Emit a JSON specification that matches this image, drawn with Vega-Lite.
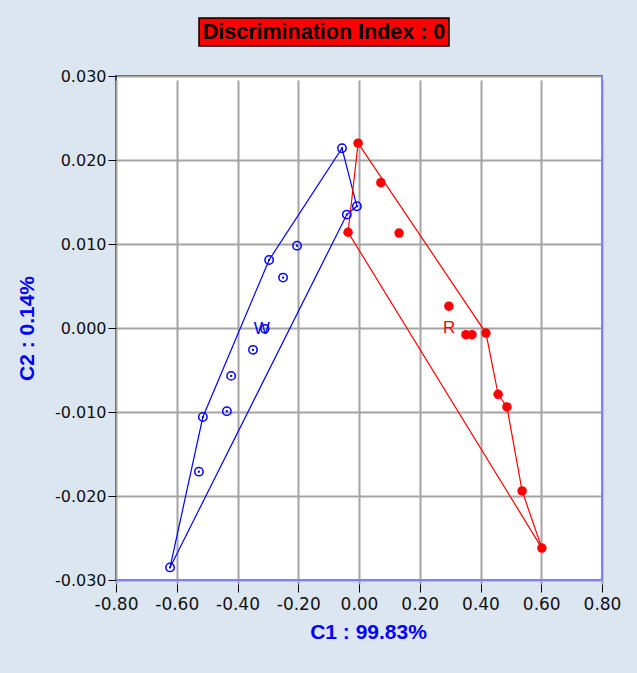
{
  "$schema": "https://vega.github.io/schema/vega-lite/v6.json",
  "width": 486,
  "height": 504,
  "autosize": {"type": "none"},
  "padding": {"left": 116, "top": 76, "right": 35, "bottom": 93},
  "background": "#dce6f0",
  "config": {
    "locale": {"number": {"decimal": ".", "thousands": ",", "grouping": [3], "currency": ["$", ""], "minus": "-"}},
    "view": {"fill": "#ffffff", "stroke": "#000080", "strokeWidth": 1.5},
    "axis": {
      "domain": false,
      "grid": true,
      "gridColor": "#a4a4a4",
      "gridWidth": 2,
      "tickColor": "#000000",
      "tickSize": 8,
      "labelFont": "DejaVu Sans",
      "labelColor": "#111111",
      "labelOverlap": false,
      "labelFlush": false,
      "labelBound": false,
      "titleFont": "Liberation Sans",
      "titleFontWeight": "bold",
      "titleColor": "#0000ff",
      "titleFontSize": 21
    },
    "axisX": {"labelFontSize": 17, "offset": 4, "labelPadding": 4, "titlePadding": 9, "titleX": 252},
    "axisY": {"labelFontSize": 16, "labelPadding": 2}
  },
  "datasets": {
    "points": [
      {"g": "W", "c1": -0.622, "c2": -0.0285},
      {"g": "W", "c1": -0.527, "c2": -0.0171},
      {"g": "W", "c1": -0.514, "c2": -0.0106},
      {"g": "W", "c1": -0.435, "c2": -0.0099},
      {"g": "W", "c1": -0.421, "c2": -0.0057},
      {"g": "W", "c1": -0.349, "c2": -0.0026},
      {"g": "W", "c1": -0.296, "c2": 0.0081},
      {"g": "W", "c1": -0.250, "c2": 0.0060},
      {"g": "W", "c1": -0.204, "c2": 0.0098},
      {"g": "W", "c1": -0.056, "c2": 0.0214},
      {"g": "W", "c1": -0.007, "c2": 0.0145},
      {"g": "W", "c1": -0.040, "c2": 0.0135},
      {"g": "R", "c1": -0.003, "c2": 0.0220},
      {"g": "R", "c1": 0.072, "c2": 0.0173},
      {"g": "R", "c1": 0.132, "c2": 0.0113},
      {"g": "R", "c1": -0.036, "c2": 0.0114},
      {"g": "R", "c1": 0.296, "c2": 0.0026},
      {"g": "R", "c1": 0.352, "c2": -0.0008},
      {"g": "R", "c1": 0.372, "c2": -0.0008},
      {"g": "R", "c1": 0.418, "c2": -0.0006},
      {"g": "R", "c1": 0.458, "c2": -0.0079},
      {"g": "R", "c1": 0.487, "c2": -0.0094},
      {"g": "R", "c1": 0.537, "c2": -0.0194},
      {"g": "R", "c1": 0.602, "c2": -0.0262}
    ],
    "hull": [
      {"g": "W", "o": 1, "c1": -0.622, "c2": -0.0285},
      {"g": "W", "o": 2, "c1": -0.514, "c2": -0.0106},
      {"g": "W", "o": 3, "c1": -0.296, "c2": 0.0081},
      {"g": "W", "o": 4, "c1": -0.056, "c2": 0.0214},
      {"g": "W", "o": 5, "c1": -0.007, "c2": 0.0145},
      {"g": "W", "o": 6, "c1": -0.040, "c2": 0.0135},
      {"g": "W", "o": 7, "c1": -0.622, "c2": -0.0285},
      {"g": "R", "o": 1, "c1": -0.003, "c2": 0.0220},
      {"g": "R", "o": 2, "c1": 0.418, "c2": -0.0006},
      {"g": "R", "o": 3, "c1": 0.458, "c2": -0.0079},
      {"g": "R", "o": 4, "c1": 0.487, "c2": -0.0094},
      {"g": "R", "o": 5, "c1": 0.537, "c2": -0.0194},
      {"g": "R", "o": 6, "c1": 0.602, "c2": -0.0262},
      {"g": "R", "o": 7, "c1": -0.036, "c2": 0.0114},
      {"g": "R", "o": 8, "c1": -0.003, "c2": 0.0220}
    ],
    "centroids": [
      {"g": "W", "c1": -0.310, "c2": -0.0001},
      {"g": "R", "c1": 0.307, "c2": 0.0000}
    ],
    "one": [{}]
  },
  "layer": [
    {
      "data": {"name": "hull"},
      "mark": {"type": "line", "strokeWidth": 1.2},
      "encoding": {
        "x": {"field": "c1", "type": "quantitative", "scale": {"domain": [-0.8, 0.8], "nice": false, "zero": false},
          "axis": {"values": [-0.8, -0.6, -0.4, -0.2, 0, 0.2, 0.4, 0.6, 0.8], "format": ".2f", "title": "C1 : 99.83%"}},
        "y": {"field": "c2", "type": "quantitative", "scale": {"domain": [-0.03, 0.03], "nice": false, "zero": false},
          "axis": {"values": [-0.03, -0.02, -0.01, 0, 0.01, 0.02, 0.03], "format": ".3f", "title": "C2 : 0.14%", "titleX": -83, "titleY": 252, "titleAngle": 270, "titleAlign": "center", "titleBaseline": "alphabetic"}},
        "order": {"field": "o", "type": "quantitative"},
        "detail": {"field": "g"},
        "color": {"field": "g", "type": "nominal", "scale": {"domain": ["W", "R"], "range": ["#0000ff", "#ff0000"]}, "legend": null}
      }
    },
    {
      "data": {"name": "points"},
      "transform": [{"filter": "datum.g === 'W'"}],
      "mark": {"type": "point", "shape": "circle", "filled": false, "size": 70, "strokeWidth": 1.5, "color": "#0000ff", "opacity": 1},
      "encoding": {
        "x": {"field": "c1", "type": "quantitative", "scale": {"domain": [-0.8, 0.8], "nice": false, "zero": false},
          "axis": {"values": [-0.8, -0.6, -0.4, -0.2, 0, 0.2, 0.4, 0.6, 0.8], "format": ".2f", "title": "C1 : 99.83%"}},
        "y": {"field": "c2", "type": "quantitative", "scale": {"domain": [-0.03, 0.03], "nice": false, "zero": false},
          "axis": {"values": [-0.03, -0.02, -0.01, 0, 0.01, 0.02, 0.03], "format": ".3f", "title": "C2 : 0.14%", "titleX": -83, "titleY": 252, "titleAngle": 270, "titleAlign": "center", "titleBaseline": "alphabetic"}}
      }
    },
    {
      "data": {"name": "points"},
      "transform": [{"filter": "datum.g === 'W'"}],
      "mark": {"type": "point", "shape": "square", "filled": true, "size": 4, "color": "#0000ff", "opacity": 1},
      "encoding": {
        "x": {"field": "c1", "type": "quantitative", "scale": {"domain": [-0.8, 0.8], "nice": false, "zero": false},
          "axis": {"values": [-0.8, -0.6, -0.4, -0.2, 0, 0.2, 0.4, 0.6, 0.8], "format": ".2f", "title": "C1 : 99.83%"}},
        "y": {"field": "c2", "type": "quantitative", "scale": {"domain": [-0.03, 0.03], "nice": false, "zero": false},
          "axis": {"values": [-0.03, -0.02, -0.01, 0, 0.01, 0.02, 0.03], "format": ".3f", "title": "C2 : 0.14%", "titleX": -83, "titleY": 252, "titleAngle": 270, "titleAlign": "center", "titleBaseline": "alphabetic"}}
      }
    },
    {
      "data": {"name": "points"},
      "transform": [{"filter": "datum.g === 'R'"}],
      "mark": {"type": "point", "shape": "circle", "filled": true, "size": 90, "color": "#ff0000", "opacity": 1},
      "encoding": {
        "x": {"field": "c1", "type": "quantitative", "scale": {"domain": [-0.8, 0.8], "nice": false, "zero": false},
          "axis": {"values": [-0.8, -0.6, -0.4, -0.2, 0, 0.2, 0.4, 0.6, 0.8], "format": ".2f", "title": "C1 : 99.83%"}},
        "y": {"field": "c2", "type": "quantitative", "scale": {"domain": [-0.03, 0.03], "nice": false, "zero": false},
          "axis": {"values": [-0.03, -0.02, -0.01, 0, 0.01, 0.02, 0.03], "format": ".3f", "title": "C2 : 0.14%", "titleX": -83, "titleY": 252, "titleAngle": 270, "titleAlign": "center", "titleBaseline": "alphabetic"}}
      }
    },
    {
      "data": {"name": "centroids"},
      "transform": [{"filter": "datum.g === 'W'"}],
      "mark": {"type": "point", "shape": "circle", "filled": false, "size": 64, "strokeWidth": 1.5, "color": "#0000ff", "opacity": 1},
      "encoding": {
        "x": {"field": "c1", "type": "quantitative", "scale": {"domain": [-0.8, 0.8], "nice": false, "zero": false},
          "axis": {"values": [-0.8, -0.6, -0.4, -0.2, 0, 0.2, 0.4, 0.6, 0.8], "format": ".2f", "title": "C1 : 99.83%"}},
        "y": {"field": "c2", "type": "quantitative", "scale": {"domain": [-0.03, 0.03], "nice": false, "zero": false},
          "axis": {"values": [-0.03, -0.02, -0.01, 0, 0.01, 0.02, 0.03], "format": ".3f", "title": "C2 : 0.14%", "titleX": -83, "titleY": 252, "titleAngle": 270, "titleAlign": "center", "titleBaseline": "alphabetic"}}
      }
    },
    {
      "data": {"name": "centroids"},
      "mark": {"type": "text", "font": "Liberation Sans", "fontSize": 17, "align": "center", "baseline": "middle", "dx": -3},
      "encoding": {
        "x": {"field": "c1", "type": "quantitative", "scale": {"domain": [-0.8, 0.8], "nice": false, "zero": false},
          "axis": {"values": [-0.8, -0.6, -0.4, -0.2, 0, 0.2, 0.4, 0.6, 0.8], "format": ".2f", "title": "C1 : 99.83%"}},
        "y": {"field": "c2", "type": "quantitative", "scale": {"domain": [-0.03, 0.03], "nice": false, "zero": false},
          "axis": {"values": [-0.03, -0.02, -0.01, 0, 0.01, 0.02, 0.03], "format": ".3f", "title": "C2 : 0.14%", "titleX": -83, "titleY": 252, "titleAngle": 270, "titleAlign": "center", "titleBaseline": "alphabetic"}},
        "text": {"field": "g"},
        "color": {"field": "g", "type": "nominal", "scale": {"domain": ["W", "R"], "range": ["#0000ff", "#ff0000"]}, "legend": null}
      }
    },
    {
      "data": {"name": "one"},
      "mark": {"type": "rule", "color": "#8080ff", "strokeWidth": 2},
      "encoding": {
        "x": {"datum": 0.8, "type": "quantitative", "scale": {"domain": [-0.8, 0.8], "nice": false, "zero": false},
          "axis": {"values": [-0.8, -0.6, -0.4, -0.2, 0, 0.2, 0.4, 0.6, 0.8], "format": ".2f", "title": "C1 : 99.83%"}}
      }
    },
    {
      "data": {"name": "one"},
      "mark": {"type": "rule", "color": "#8080ff", "strokeWidth": 2},
      "encoding": {
        "y": {"datum": -0.03, "type": "quantitative", "scale": {"domain": [-0.03, 0.03], "nice": false, "zero": false},
          "axis": {"values": [-0.03, -0.02, -0.01, 0, 0.01, 0.02, 0.03], "format": ".3f", "title": "C2 : 0.14%", "titleX": -83, "titleY": 252, "titleAngle": 270, "titleAlign": "center", "titleBaseline": "alphabetic"}}
      }
    },
    {
      "data": {"name": "one"},
      "mark": {"type": "rect", "fill": "#ff0000", "stroke": "#000000", "strokeWidth": 1.5, "clip": false},
      "encoding": {
        "x": {"datum": -0.5267, "type": "quantitative", "scale": {"domain": [-0.8, 0.8], "nice": false, "zero": false},
          "axis": {"values": [-0.8, -0.6, -0.4, -0.2, 0, 0.2, 0.4, 0.6, 0.8], "format": ".2f", "title": "C1 : 99.83%"}},
        "x2": {"datum": 0.2963},
        "y": {"datum": 0.0369, "type": "quantitative", "scale": {"domain": [-0.03, 0.03], "nice": false, "zero": false},
          "axis": {"values": [-0.03, -0.02, -0.01, 0, 0.01, 0.02, 0.03], "format": ".3f", "title": "C2 : 0.14%", "titleX": -83, "titleY": 252, "titleAngle": 270, "titleAlign": "center", "titleBaseline": "alphabetic"}},
        "y2": {"datum": 0.03357}
      }
    },
    {
      "data": {"name": "one"},
      "mark": {"type": "text", "text": "Discrimination Index : 0", "font": "Liberation Sans", "fontWeight": "bold", "fontSize": 21.5, "color": "#000000", "align": "center", "baseline": "middle", "dy": 1, "clip": false},
      "encoding": {
        "x": {"datum": -0.1152, "type": "quantitative", "scale": {"domain": [-0.8, 0.8], "nice": false, "zero": false},
          "axis": {"values": [-0.8, -0.6, -0.4, -0.2, 0, 0.2, 0.4, 0.6, 0.8], "format": ".2f", "title": "C1 : 99.83%"}},
        "y": {"datum": 0.03524, "type": "quantitative", "scale": {"domain": [-0.03, 0.03], "nice": false, "zero": false},
          "axis": {"values": [-0.03, -0.02, -0.01, 0, 0.01, 0.02, 0.03], "format": ".3f", "title": "C2 : 0.14%", "titleX": -83, "titleY": 252, "titleAngle": 270, "titleAlign": "center", "titleBaseline": "alphabetic"}}
      }
    }
  ]
}
